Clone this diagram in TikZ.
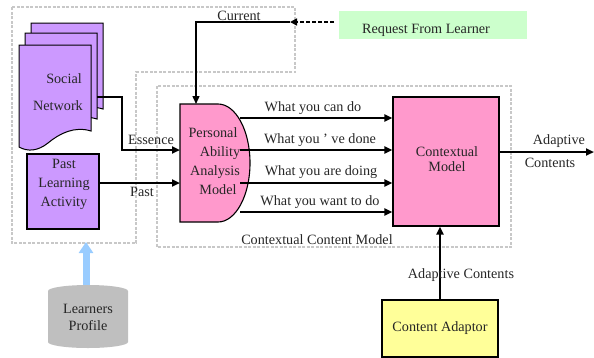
\documentclass[tikz,border=0pt]{standalone}
\usepackage{fontspec}
\setmainfont{Liberation Serif}
\usetikzlibrary{arrows.meta}
\definecolor{purp}{HTML}{CC99FF}
\definecolor{pinkc}{HTML}{FF99CC}
\definecolor{greenc}{HTML}{CCFFCC}
\definecolor{yellowc}{HTML}{FFFF99}
\definecolor{grayc}{HTML}{BFBFBF}
\definecolor{bluec}{HTML}{99CCFF}
\definecolor{dashc}{HTML}{C8C8C8}
\begin{document}
\begin{tikzpicture}[x=1pt,y=-1pt,
  font=\fontsize{14.2}{15}\selectfont,
  txt/.style={inner sep=0pt, text=black!85},
  conn/.style={line width=2pt, -{Triangle[length=8pt,width=7pt]}},
  thinconn/.style={line width=1.4pt, -{Triangle[length=8pt,width=7pt]}},
  grp/.style={draw=dashc, line width=1.5pt, dash pattern=on 3pt off 1.5pt},
  boxb/.style={draw=black, line width=1.1pt, inner sep=0pt},
  docshape/.style={draw=black, line width=1pt, fill=purp}]
\useasboundingbox (0,0) rectangle (594,357);

% grouping boxes
\draw[grp] (12,7) -- (295,7) -- (295,72) -- (136,72) -- (136,243) -- (12,243) -- cycle;
\draw[grp] (157,86) rectangle (511,247);

% social network stacked documents
\foreach \dx/\dy in {12/-22, 6/-12, 0/0}{
  \draw[docshape, shift={(\dx,\dy)}] (19,45) -- (91,45) -- (91,131)
    .. controls (75,126) and (60,133) .. (48,143)
    .. controls (38,151) and (28,152) .. (19,147) -- cycle;
}
\node[txt] (sn1) at (64,79) {Social};
\node[txt] (sn2) at (58,106) {Network};
\coordinate (snout) at (97,97);

% past learning activity
\node[boxb, fill=purp, minimum width=72pt, minimum height=75pt] (pla) at (63,191.5) {};
\node[txt, align=center, font=\fontsize{14.2}{19}\selectfont] (platext) at (64,184) {Past\\Learning\\Activity};
\coordinate (plaout) at (99,183);

% PAAM
\draw[boxb, fill=pinkc] (180,104) -- (218,104)
   arc[start angle=-90, end angle=90, x radius=32, y radius=59] -- (180,222) -- cycle;
\node[txt] (paam1) at (213,133) {Personal};
\node[txt] (paam2) at (220,153) {Ability};
\node[txt] (paam3) at (215,172) {Analysis};
\node[txt] (paam4) at (218,190) {Model};
\coordinate (paamtop) at (196,104);
\coordinate (paamess) at (180,150);
\coordinate (paampast) at (180,183);

% request from learner
\node[fill=greenc, minimum width=188pt, minimum height=28pt, inner sep=0pt] (req) at (433,25) {};
\node[txt] (reqtext) at (426,30) {Request From Learner};
\coordinate (reqout) at (334,22);
\coordinate (cur) at (290,22);
\coordinate (curbend) at (196,22);

% contextual model
\node[boxb, fill=pinkc, minimum width=106pt, minimum height=129pt] (cm) at (446,161.5) {};
\node[txt, align=center] (cmtext) at (447,159) {Contextual\\Model};
\coordinate (cmout) at (499,152);
\coordinate (outend) at (594,152);

% content adaptor
\node[boxb, fill=yellowc, minimum width=116pt, minimum height=57pt, text=black!85] (ca) at (440,328.5) {Content Adaptor};

% learners profile cylinder
\coordinate (lptop) at (86,287);
\coordinate (lpend) at (86,242);
\draw[bluec, line width=7pt, -{Triangle[length=11pt,width=14pt]}] (lptop) -- (lpend);
\fill[grayc] (48,291) arc[start angle=180, end angle=360, x radius=40, y radius=6]
   -- (128,342) arc[start angle=0, end angle=180, x radius=40, y radius=6] -- cycle;
\node[txt, align=center, font=\fontsize{14.2}{17}\selectfont] (lp) at (88,317) {Learners\\Profile};

% connectors
\draw[conn] (snout) -- (122,97) -- (122,150) -- (paamess);
\node[txt] (essence) at (151,140) {Essence};
\draw[conn] (plaout) -- (paampast);
\node[txt] (past) at (142,192) {Past};

\draw[line width=1.6pt, dash pattern=on 4pt off 2pt, -{Triangle[length=7pt,width=7pt]}] (reqout) -- (cur);
\draw[thinconn] (cur) -- (curbend) -- (paamtop);
\node[txt] (current) at (239,16) {Current};

\draw[conn] (240,118) -- (cm.west |- 0,118);
\draw[conn] (240,150) -- (cm.west |- 0,150);
\draw[conn] (240,183) -- (cm.west |- 0,183);
\draw[conn] (240,212) -- (cm.west |- 0,212);
\node[txt] (w1) at (313,108) {What you can do};
\node[txt] (w2) at (320,140) {What you ’ ve done};
\node[txt] (w3) at (321,172) {What you are doing};
\node[txt] (w4) at (320,202) {What you want to do};
\node[txt] (ccm) at (317,240) {Contextual Content Model};

\draw[conn] (cmout) -- (outend);
\node[txt] (ad1) at (559,141) {Adaptive};
\node[txt] (ad2) at (550,163) {Contents};

\draw[conn] (ca.north) -- (ca.north |- cm.south);
\node[txt] (adc) at (461,275) {Adaptive Contents};
\end{tikzpicture}
\end{document}
